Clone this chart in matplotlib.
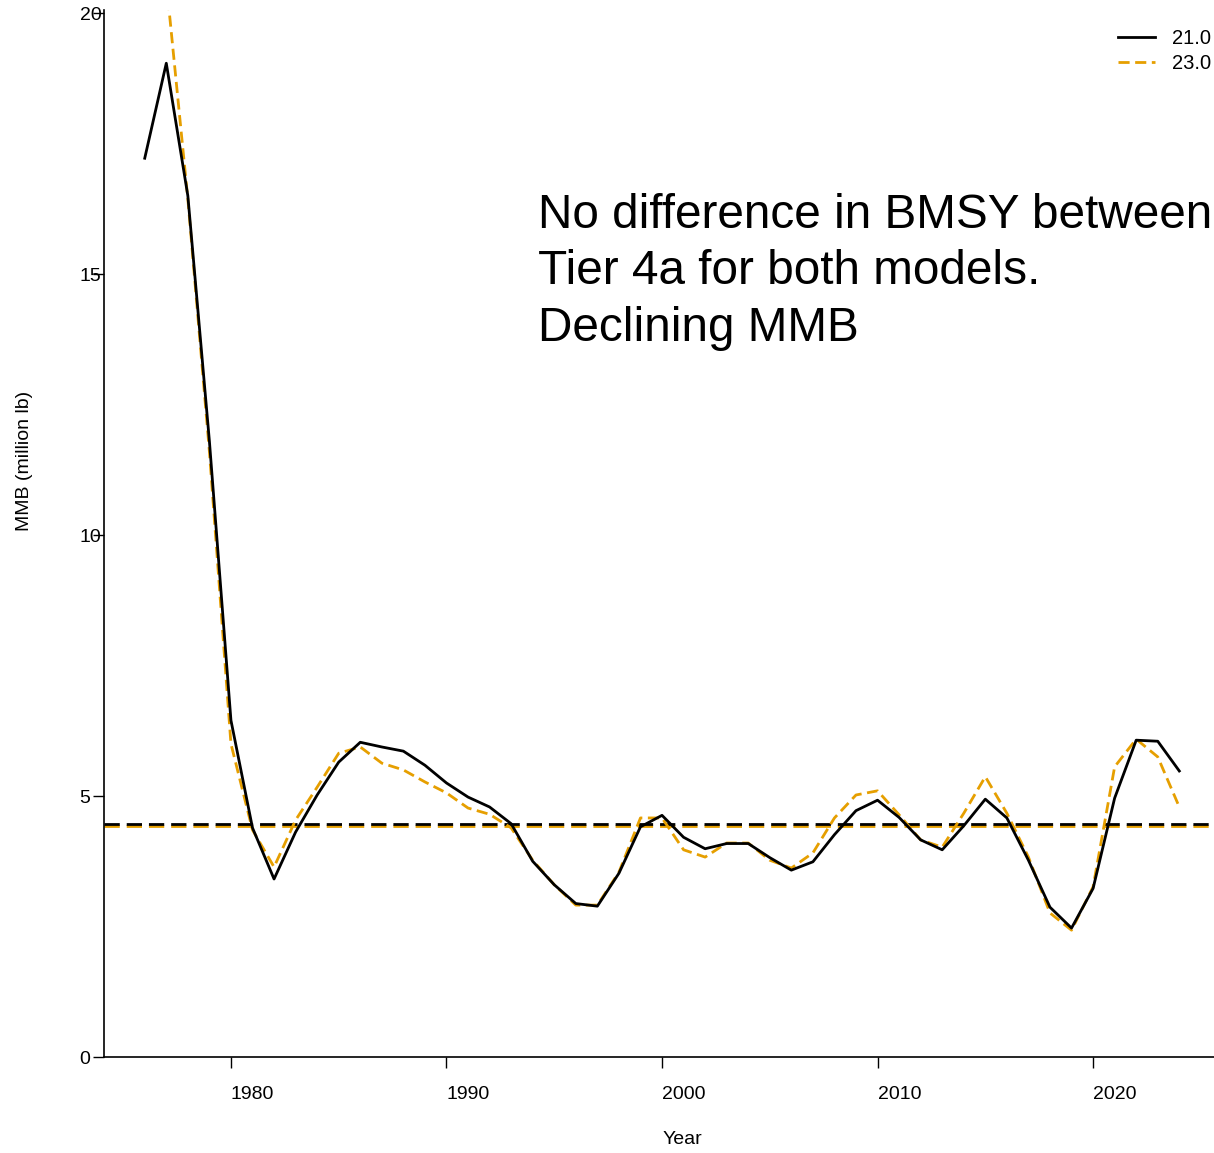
import matplotlib
matplotlib.use('Agg')
import matplotlib.pyplot as plt

plt.rcParams['font.family'] = ['Liberation Sans', 'DejaVu Sans']
plt.rcParams['lines.scale_dashes'] = False

# MMB estimates (million lb) for the two model scenarios
years_21 = list(range(1976, 2025))
mmb_21 = [17.22, 19.04, 16.5, 11.8, 6.45, 4.39, 3.41, 4.31, 5.02, 5.65,
          6.03, 5.94, 5.86, 5.59, 5.25, 4.98, 4.79, 4.47, 3.75, 3.30,
          2.94, 2.89, 3.52, 4.41, 4.63, 4.21, 3.99, 4.09, 4.09, 3.82,
          3.58, 3.74, 4.26, 4.72, 4.92, 4.59, 4.16, 3.97, 4.43, 4.94,
          4.58, 3.77, 2.87, 2.47, 3.23, 4.96, 6.07, 6.05, 5.48]

years_23 = list(range(1977, 2025))
mmb_23 = [20.6, 16.44, 11.6, 6.0, 4.35, 3.64, 4.54, 5.17, 5.82,
          5.94, 5.63, 5.50, 5.27, 5.06, 4.77, 4.65, 4.39, 3.77, 3.30,
          2.91, 2.91, 3.54, 4.58, 4.58, 3.97, 3.83, 4.10, 4.10, 3.77,
          3.62, 3.91, 4.58, 5.02, 5.10, 4.64, 4.16, 4.02, 4.67, 5.37,
          4.67, 3.83, 2.76, 2.43, 3.26, 5.56, 6.09, 5.75, 4.79]

# BMSY reference levels
bmsy_21 = 4.47
bmsy_23 = 4.43

fig = plt.figure(figsize=(12.14, 11.53), dpi=100)
ax = fig.add_axes([104 / 1214, 96 / 1153, 1 - 104 / 1214, (1057 - 10) / 1153])

orange = '#E69F00'
ax.axhline(bmsy_23, color=orange, lw=2, dashes=(11, 5))
ax.axhline(bmsy_21, color='black', lw=2, dashes=(11, 5))
ax.plot(years_23, mmb_23, color=orange, lw=2, dashes=(8, 4), label='23.0', zorder=3)
ax.plot(years_21, mmb_21, color='black', lw=2, label='21.0', zorder=4)

ax.set_xlim(1974.11, 2025.61)
ax.set_ylim(0, 20.06)

ax.set_xticks([1980, 1990, 2000, 2010, 2020])
ax.set_yticks([0, 5, 10, 15, 20])
ax.tick_params(axis='x', length=8, width=1, pad=13, labelsize=14)
ax.tick_params(axis='y', length=8, width=1, pad=9.5, labelsize=14)
for lab in ax.get_xticklabels():
    lab.set_horizontalalignment('left')
for lab in ax.get_yticklabels():
    lab.set_horizontalalignment('left')

for side in ['top', 'right']:
    ax.spines[side].set_visible(False)
for side in ['left', 'bottom']:
    ax.spines[side].set_linewidth(1.2)

ax.set_xlabel('Year', fontsize=14)
ax.set_ylabel('MMB (million lb)', fontsize=14)
ax.xaxis.set_label_coords(0.521, -0.0705)
ax.yaxis.set_label_coords(-0.064, 0.569)

ax.text(1994.25, 16.55, 'No difference in BMSY between\nTier 4a for both models.\nDeclining MMB',
        fontsize=34.4, ha='left', va='top', linespacing=1.32)

handles, labels = ax.get_legend_handles_labels()
ax.legend(handles[::-1], labels[::-1], loc='upper right',
          bbox_to_anchor=(1.0, 1 - 26 / 1153), bbox_transform=fig.transFigure,
          frameon=False, fontsize=14.5, handlelength=1.8, handletextpad=0.85,
          labelspacing=0.28, borderaxespad=0, borderpad=0.15)

fig.savefig('out.png', dpi=100)
